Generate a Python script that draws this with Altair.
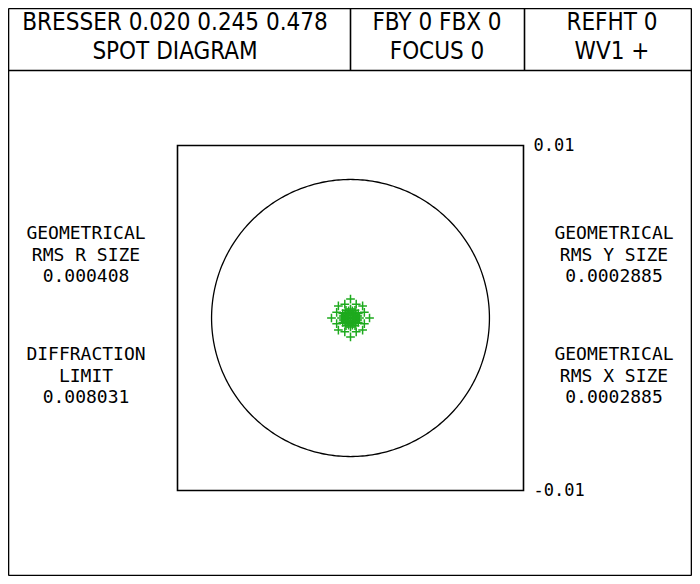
import altair as alt
import numpy as np
import pandas as pd

# ---------------- data ----------------
header_texts = ["BRESSER 0.020 0.245 0.478", "SPOT DIAGRAM",
                "FBY 0 FBX 0", "FOCUS 0",
                "REFHT 0", "WV1 +"]
left_texts = ["GEOMETRICAL", "RMS R SIZE", "0.000408",
              "DIFFRACTION", "LIMIT", "0.008031"]
right_texts = ["GEOMETRICAL", "RMS Y SIZE", "0.0002885",
               "GEOMETRICAL", "RMS X SIZE", "0.0002885"]
axis_values = [0.01, -0.01]
axis_labels = ["0.01", "-0.01"]
plot_half_width = 0.01
diffraction_limit = 0.008031

spot_x = [0.0011, 0.0, -0.0011, 0.0,
          0.0007, -0.0007, -0.0007, 0.0007,
          0.0008, 0.00033, -0.00033, -0.0008, -0.0008, -0.00033, 0.00033, 0.0008,
          0.00052, 0.00045, 0.00026, 0.0, -0.00026, -0.00045, -0.00052, -0.00045,
          -0.00026, 0.0, 0.00026, 0.00045,
          0.00042, 0.0003, 0.00011, -0.00011, -0.0003, -0.00042,
          -0.00042, -0.0003, -0.00011, 0.00011, 0.0003, 0.00042,
          0.00032, 0.00013, -0.00013, -0.00032, -0.00032, -0.00013, 0.00013, 0.00032,
          0.00026, 0.00018, 0.0, -0.00018, -0.00026, -0.00018, 0.0, 0.00018,
          0.00017, 0.00009, -0.00009, -0.00017, -0.00009, 0.00009,
          0.0]
spot_y = [0.0, 0.0011, 0.0, -0.0011,
          0.0007, 0.0007, -0.0007, -0.0007,
          0.00033, 0.0008, 0.0008, 0.00033, -0.00033, -0.0008, -0.0008, -0.00033,
          0.0, 0.00026, 0.00045, 0.00052, 0.00045, 0.00026, 0.0, -0.00026,
          -0.00045, -0.00052, -0.00045, -0.00026,
          0.00011, 0.0003, 0.00042, 0.00042, 0.0003, 0.00011,
          -0.00011, -0.0003, -0.00042, -0.00042, -0.0003, -0.00011,
          0.00013, 0.00032, 0.00032, 0.00013, -0.00013, -0.00032, -0.00032, -0.00013,
          0.0, 0.00018, 0.00026, 0.00018, 0.0, -0.00018, -0.00026, -0.00018,
          0.0, 0.00015, 0.00015, 0.0, -0.00015, -0.00015,
          0.0]

# ---------------- layout (pixels) ----------------
W, H = 684, 568
X_RANGE = [169.5, 515.5]
Y_RANGE = [482.5, 137.5]
INK = "#000000"
GREEN = "#1eaa1e"
HEAD_FONT = "DejaVu Sans Condensed, Liberation Sans Narrow, sans-serif"
BODY_FONT = "DejaVu Sans Mono, Liberation Mono, monospace"

xs = alt.Scale(domain=[-plot_half_width, plot_half_width], range=X_RANGE)
ys = alt.Scale(domain=[-plot_half_width, plot_half_width], range=Y_RANGE)

# frame / header rules (pixel space)
segs = pd.DataFrame({
    "x":  [0.5, 0.5, 0.5, 683.5, 0.5, 342.5, 516.5],
    "x2": [683.5, 683.5, 0.5, 683.5, 683.5, 342.5, 516.5],
    "y":  [0.5, 567.5, 0.5, 0.5, 62.5, 0.5, 0.5],
    "y2": [0.5, 567.5, 567.5, 567.5, 62.5, 62.5, 62.5],
})
frame = alt.Chart(segs).mark_rule(color=INK, strokeWidth=1.6).encode(
    x=alt.X("x:Q", scale=None, axis=None), x2="x2:Q",
    y=alt.Y("y:Q", scale=None, axis=None), y2="y2:Q")

# header text
head_df = pd.DataFrame({
    "t": header_texts,
    "px": [167, 167, 429, 429, 604, 604],
    "py": [22, 51, 22, 51, 22, 51],
})
head = alt.Chart(head_df).mark_text(font=HEAD_FONT, fontSize=24, color=INK,
                                    align="center", baseline="alphabetic").encode(
    x=alt.X("px:Q", scale=None, axis=None),
    y=alt.Y("py:Q", scale=None, axis=None),
    text="t:N")

side_df = pd.DataFrame({
    "t": left_texts + right_texts,
    "px": [78] * 6 + [606] * 6,
    "py": [226, 248, 269, 347, 369, 390] * 2,
})
side = alt.Chart(side_df).mark_text(font=BODY_FONT, fontSize=18, color=INK,
                                    align="center", baseline="middle").encode(
    x=alt.X("px:Q", scale=None, axis=None),
    y=alt.Y("py:Q", scale=None, axis=None),
    text="t:N")

# plot square
sq_df = pd.DataFrame({"x": [-plot_half_width], "x2": [plot_half_width],
                      "y": [-plot_half_width], "y2": [plot_half_width]})
square = alt.Chart(sq_df).mark_rect(fillOpacity=0, stroke=INK, strokeWidth=1.6).encode(
    x=alt.X("x:Q", scale=xs, axis=None), x2="x2:Q",
    y=alt.Y("y:Q", scale=ys, axis=None), y2="y2:Q")

# axis labels
ax_df = pd.DataFrame({"x": [plot_half_width] * 2, "y": axis_values, "t": axis_labels})
axlab = alt.Chart(ax_df).mark_text(font=BODY_FONT, fontSize=17, color=INK,
                                   align="left", baseline="middle", dx=10).encode(
    x=alt.X("x:Q", scale=xs, axis=None),
    y=alt.Y("y:Q", scale=ys, axis=None),
    text="t:N")

# diffraction-limit circle
ang = np.linspace(0, 2 * np.pi, 361)
circ_df = pd.DataFrame({"x": diffraction_limit * np.cos(ang),
                        "y": diffraction_limit * np.sin(ang),
                        "o": np.arange(len(ang))})
circle = alt.Chart(circ_df).mark_line(color=INK, strokeWidth=1.3).encode(
    x=alt.X("x:Q", scale=xs, axis=None),
    y=alt.Y("y:Q", scale=ys, axis=None),
    order="o:Q")

# spot rays
spot_df = pd.DataFrame({"x": spot_x, "y": spot_y})
spots = alt.Chart(spot_df).mark_point(shape="M-1,0L1,0M0,-1L0,1", filled=False,
                                      size=76, strokeWidth=1.5, color=GREEN,
                                      opacity=1).encode(
    x=alt.X("x:Q", scale=xs, axis=None),
    y=alt.Y("y:Q", scale=ys, axis=None))

chart = alt.layer(frame, head, side, square, axlab, circle, spots).resolve_scale(
    x="independent", y="independent"
).properties(
    width=W, height=H, autosize=alt.AutoSizeParams(type="none"), padding=0,
    background="white"
).configure_view(strokeWidth=0)

chart.save("out.html", embed_options={"renderer": "svg", "actions": False})
